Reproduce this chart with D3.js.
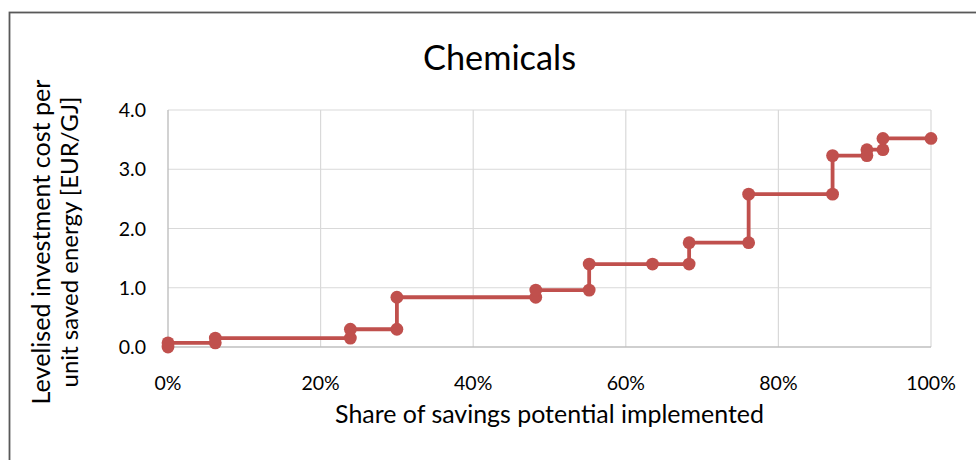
<!DOCTYPE html>
<html><head><meta charset="utf-8">
<script src="https://cdn.jsdelivr.net/npm/d3@7"></script>
<style>body{margin:0;background:#fff;} svg{display:block;font-family:Lato,"Open Sans",sans-serif;}</style>
</head><body>
<svg id="c" width="976" height="460"></svg>
<script>
const title = "Chemicals";
const xTitle = "Share of savings potential implemented";
const yTitleLines = ["Levelised investment cost per", "unit saved energy [EUR/GJ]"];
// share of savings potential implemented (%)
const shares = [0, 0, 6.2, 6.2, 23.9, 23.9, 30.0, 30.0, 48.2, 48.2, 55.2, 55.2, 63.5, 68.3, 68.3, 76.1, 76.1, 87.1, 87.1, 91.6, 91.6, 93.7, 93.7, 100];
// levelised investment cost (EUR/GJ)
const costs = [0.0, 0.07, 0.07, 0.15, 0.15, 0.30, 0.30, 0.84, 0.84, 0.96, 0.96, 1.40, 1.40, 1.40, 1.76, 1.76, 2.58, 2.58, 3.23, 3.23, 3.33, 3.33, 3.52, 3.52];
const xTicks = [0, 20, 40, 60, 80, 100];
const yTicks = [0, 1, 2, 3, 4];

const svg = d3.select("#c");
const color = "#C0504D";
const L = 168, R = 931, T = 110, B = 347;
const x = d3.scaleLinear().domain([0, 100]).range([L, R]);
const y = d3.scaleLinear().domain([0, 4]).range([B, T]);

svg.append("rect").attr("x", 9.5).attr("y", 12.5).attr("width", 1000).attr("height", 500)
  .attr("fill", "#fff").attr("stroke", "#595959").attr("stroke-width", 1.8);

function fit(sel, w) {
  const n = sel.node(); const cur = parseFloat(sel.attr("font-size"));
  const len = n.getComputedTextLength();
  sel.attr("font-size", cur * w / len);
}

// gridlines
svg.append("g").selectAll("line").data(yTicks.slice(1)).join("line")
  .attr("x1", L).attr("x2", R).attr("y1", d => y(d)).attr("y2", d => y(d))
  .attr("stroke", "#d9d9d9").attr("stroke-width", 1.2);
svg.append("g").selectAll("line").data(xTicks.slice(1)).join("line")
  .attr("y1", T).attr("y2", B).attr("x1", d => x(d)).attr("x2", d => x(d))
  .attr("stroke", "#d9d9d9").attr("stroke-width", 1.2);
// axes lines
svg.append("line").attr("x1", L).attr("x2", L).attr("y1", T).attr("y2", B).attr("stroke", "#bfbfbf").attr("stroke-width", 1.4);
svg.append("line").attr("x1", L).attr("x2", R).attr("y1", B).attr("y2", B).attr("stroke", "#bfbfbf").attr("stroke-width", 1.4);

// tick labels
svg.append("g").selectAll("text").data(yTicks).join("text")
  .attr("x", 146).attr("y", d => y(d) + 7).attr("text-anchor", "end")
  .attr("font-size", 19.5).attr("fill", "#000").text(d => d3.format(".1f")(d));
svg.append("g").selectAll("text").data(xTicks).join("text")
  .attr("x", d => x(d)).attr("y", 390).attr("text-anchor", "middle")
  .attr("font-size", 19.5).attr("fill", "#000").text(d => d + "%");

// title
const t = svg.append("text").attr("x", 499.5).attr("y", 70).attr("text-anchor", "middle")
  .attr("font-size", 30).attr("fill", "#000").text(title);
fit(t, 153);
const xt = svg.append("text").attr("x", 549.5).attr("y", 423).attr("text-anchor", "middle")
  .attr("font-size", 20).attr("fill", "#000").text(xTitle);
fit(xt, 429);
const ytW = [325, 291];
yTitleLines.forEach((s, i) => {
  const tt = svg.append("text").attr("transform", `translate(${[50, 78][i]},242) rotate(-90)`)
    .attr("text-anchor", "middle").attr("font-size", 20).attr("fill", "#000").text(s);
  fit(tt, ytW[i]);
});

// series
const pts = shares.map((s, i) => [s, costs[i]]);
svg.append("path").datum(pts)
  .attr("d", d3.line().x(d => x(d[0])).y(d => y(d[1])))
  .attr("fill", "none").attr("stroke", color).attr("stroke-width", 3.8).attr("stroke-linejoin", "round");
svg.append("g").selectAll("circle").data(pts).join("circle")
  .attr("cx", d => x(d[0])).attr("cy", d => y(d[1])).attr("r", 6.4).attr("fill", color);
</script>
</body></html>
